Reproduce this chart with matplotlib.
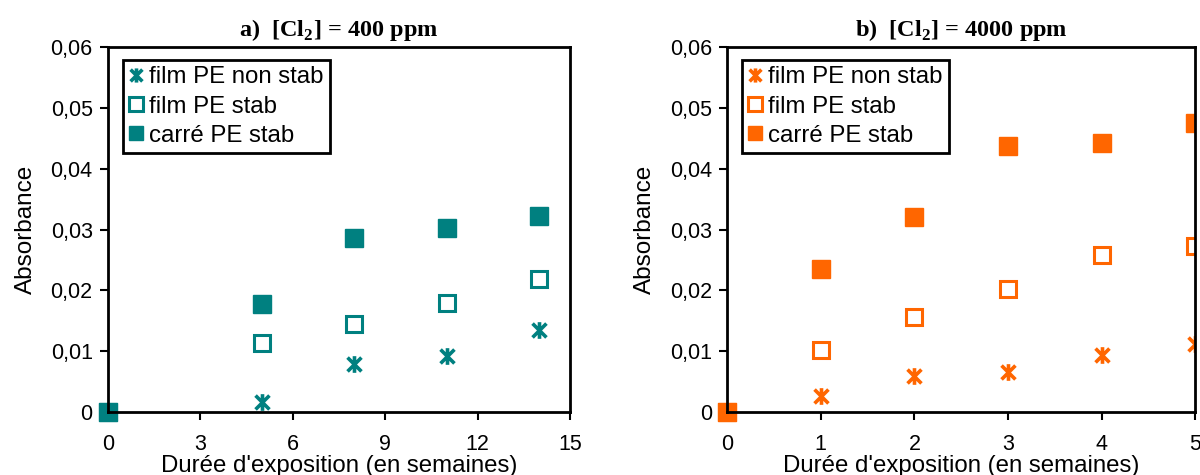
import matplotlib.pyplot as plt
import matplotlib.patches as mpatches
from matplotlib.path import Path

plt.rcParams['font.family'] = ['Liberation Sans', 'DejaVu Sans']
plt.rcParams['mathtext.fontset'] = 'custom'
plt.rcParams['mathtext.rm'] = 'Liberation Serif:bold'
plt.rcParams['mathtext.bf'] = 'Liberation Serif:bold'

# data
weeks_a = [0, 5, 8, 11, 14]
film_ns_a = [0, 0.0017, 0.0079, 0.0092, 0.0135]
film_s_a = [0, 0.0114, 0.0145, 0.0179, 0.0219]
carre_a = [0, 0.0178, 0.0287, 0.0303, 0.0322]

weeks_b = [0, 1, 2, 3, 4, 5]
film_ns_b = [0, 0.0026, 0.0059, 0.0066, 0.0094, 0.0112]
film_s_b = [0, 0.0102, 0.0157, 0.0203, 0.0258, 0.0273]
carre_b = [0, 0.0235, 0.0321, 0.0438, 0.0442, 0.0476]

yticks = [0, 0.01, 0.02, 0.03, 0.04, 0.05, 0.06]
ytick_labels = ['0', '0,01', '0,02', '0,03', '0,04', '0,05', '0,06']
labels = ['film PE non stab', 'film PE stab', 'carré PE stab']

star = Path([(-1, -1), (1, 1), (-1, 1), (1, -1), (0, -1.2), (0, 1.2)],
            [Path.MOVETO, Path.LINETO] * 3)

fig = plt.figure(figsize=(12, 4.75), dpi=100)
ax_a = fig.add_axes([0.09, 0.1326, 0.385, 0.768])
ax_b = fig.add_axes([0.606, 0.1326, 0.39, 0.768])


def draw(ax, x, s1, s2, s3, color, xticks, title):
    arts = []
    arts += ax.plot(x, s1, ls='none', marker=star, ms=12, mew=2.6,
                    color=color, label=labels[0])
    arts += ax.plot(x, s2, ls='none', marker='s', ms=11.5, mew=2.2,
                    mfc='white', mec=color, label=labels[1])
    arts += ax.plot(x, s3, ls='none', marker='s', ms=12.5, color=color,
                    label=labels[2])
    for a in arts:
        rect = mpatches.Rectangle((-0.1, -0.1), 1.1, 1.2, transform=ax.transAxes)
        a.set_clip_path(rect)
    ax.set_xlim(xticks[0], xticks[-1])
    ax.set_ylim(0, 0.06)
    ax.set_xticks(xticks)
    ax.set_yticks(yticks)
    ax.set_yticklabels(ytick_labels)
    ax.tick_params(direction='out', length=6, width=1.5, labelsize=15.5, pad=5)
    ax.tick_params(axis='x', pad=10)
    for sp in ax.spines.values():
        sp.set_linewidth(2)
    ax.set_xlabel("Durée d'exposition (en semaines)", fontsize=17.3, labelpad=0)
    ax.set_ylabel('Absorbance', fontsize=17.5, labelpad=10)
    ax.set_title(title, fontsize=17.5, fontfamily='Liberation Serif',
                 fontweight='bold', pad=8)
    leg = ax.legend(loc='upper left', bbox_to_anchor=(0.032, 0.966),
                    fontsize=17.3, fancybox=False, framealpha=1,
                    markerscale=0.85, handlelength=0.5, handletextpad=0.3,
                    borderpad=0.28, labelspacing=0.3, borderaxespad=0)
    leg.get_frame().set_edgecolor('black')
    leg.get_frame().set_linewidth(2)


draw(ax_a, weeks_a, film_ns_a, film_s_a, carre_a, '#008080',
     [0, 3, 6, 9, 12, 15], r'a)  [Cl$_{2}$] = 400 ppm')
draw(ax_b, weeks_b, film_ns_b, film_s_b, carre_b, '#FF6600',
     [0, 1, 2, 3, 4, 5], r'b)  [Cl$_{2}$] = 4000 ppm')

fig.savefig('out.png', dpi=100)
